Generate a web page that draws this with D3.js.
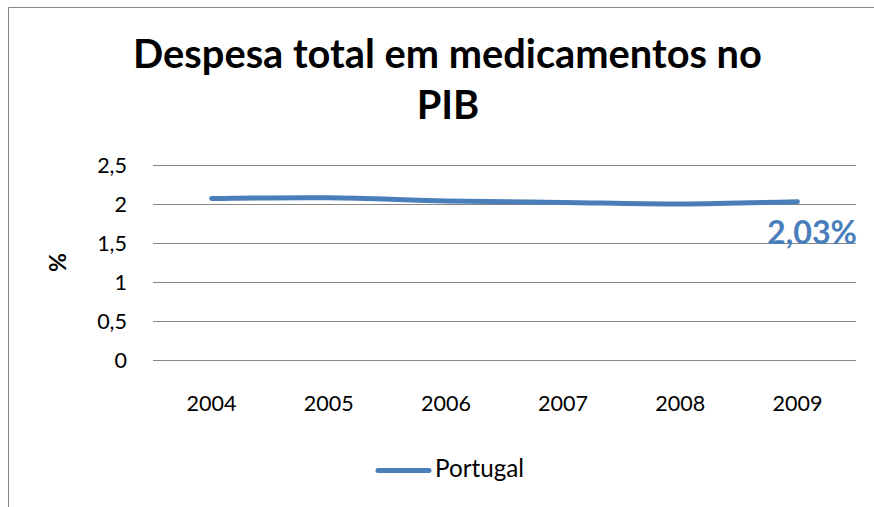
<!DOCTYPE html>
<html>
<head>
<meta charset="utf-8">
<script src="https://cdn.jsdelivr.net/npm/d3@7"></script>
<style>
  html, body { margin: 0; padding: 0; background: #fff; overflow: hidden; }
  svg { display: block; font-family: Lato, "Open Sans", sans-serif; }
</style>
</head>
<body>
<svg id="chart" width="874" height="507"></svg>
<script>
const years = ["2004", "2005", "2006", "2007", "2008", "2009"];
const portugal = [2.07, 2.08, 2.04, 2.02, 2.00, 2.03];
const yTicks = [0, 0.5, 1, 1.5, 2, 2.5];
const seriesName = "Portugal";
const titleLines = ["Despesa total em medicamentos no", "PIB"];
const yTitle = "%";
const lastLabel = "2,03%";

const svg = d3.select("#chart");
const blue = "#4a7ebb";
const grid = "#868686";

const ptLocale = d3.formatLocale({decimal: ",", thousands: ".", grouping: [3], currency: ["", "€"]});
const fmt = ptLocale.format("~g");

function fitWidth(sel, target) {
  const node = sel.node();
  const fs = parseFloat(sel.attr("font-size"));
  const w = node.getComputedTextLength();
  const nfs = fs * target / w;
  sel.attr("font-size", nfs);
  return nfs;
}

// outer border (only left and top edges fall inside the picture)
svg.append("path")
  .attr("d", "M8.5,520V7.5H900")
  .attr("fill", "none").attr("stroke", grid).attr("stroke-width", 1);

const x = d3.scaleBand().domain(years).range([153, 856]);
const y = d3.scaleLinear().domain([0, 2.5]).range([360, 165]);

// y axis with gridlines
const yAxis = svg.append("g")
  .attr("transform", "translate(153,0)")
  .call(d3.axisLeft(y).tickValues(yTicks).tickFormat(fmt)
    .tickSize(-(856 - 153)).tickPadding(26));
yAxis.select(".domain").remove();
yAxis.selectAll(".tick line").attr("stroke", grid).attr("stroke-width", 1.2);
const yText = yAxis.selectAll(".tick text")
  .attr("fill", "#000").attr("font-size", 22)
  .attr("font-family", "Lato, 'Open Sans', sans-serif")
  .attr("dy", "0.36em");

// x axis
const xAxis = svg.append("g")
  .attr("transform", "translate(0,360)")
  .call(d3.axisBottom(x).tickSize(0));
xAxis.select(".domain").remove();
const xText = xAxis.selectAll(".tick text")
  .attr("fill", "#000").attr("font-size", 22)
  .attr("font-family", "Lato, 'Open Sans', sans-serif")
  .attr("y", 51).attr("dy", 0);
const tickFs = fitWidth(d3.select(xText.nodes()[0]), 50);
xText.attr("font-size", tickFs);
yText.attr("font-size", tickFs);

// line
const line = d3.line()
  .x((d, i) => x(years[i]) + x.bandwidth() / 2)
  .y(d => y(d))
  .curve(d3.curveCatmullRom.alpha(0));
svg.append("path")
  .datum(portugal)
  .attr("d", line)
  .attr("fill", "none")
  .attr("stroke", blue)
  .attr("stroke-width", 5)
  .attr("stroke-linecap", "round")
  .attr("stroke-linejoin", "round");

// data label for last point
const lastLbl = svg.append("text")
  .attr("x", 857).attr("y", 243.5)
  .attr("text-anchor", "end")
  .attr("font-weight", "bold")
  .attr("font-size", 30)
  .attr("fill", blue)
  .text(lastLabel);
fitWidth(lastLbl, 90);

// title
const t1 = svg.append("text")
  .attr("x", 447.5).attr("y", 68)
  .attr("text-anchor", "middle")
  .attr("font-weight", "bold")
  .attr("font-size", 36)
  .attr("fill", "#000")
  .text(titleLines[0]);
fitWidth(t1, 629);
svg.append("text")
  .attr("x", 448).attr("y", 118.5)
  .attr("text-anchor", "middle")
  .attr("font-weight", "bold")
  .attr("font-size", t1.attr("font-size"))
  .attr("fill", "#000")
  .text(titleLines[1]);

// y axis title
const yt = svg.append("text")
  .attr("transform", "translate(65.5,262.5) rotate(-90)")
  .attr("text-anchor", "middle")
  .attr("font-weight", "bold")
  .attr("font-size", 21)
  .attr("fill", "#000")
  .text(yTitle);
fitWidth(yt, 19);

// legend
svg.append("line")
  .attr("x1", 378).attr("x2", 429)
  .attr("y1", 470.5).attr("y2", 470.5)
  .attr("stroke", blue).attr("stroke-width", 5)
  .attr("stroke-linecap", "round");
const leg = svg.append("text")
  .attr("x", 435).attr("y", 476.5)
  .attr("font-size", 21.5)
  .attr("fill", "#000")
  .text(seriesName);
fitWidth(leg, 89);
</script>
</body>
</html>
